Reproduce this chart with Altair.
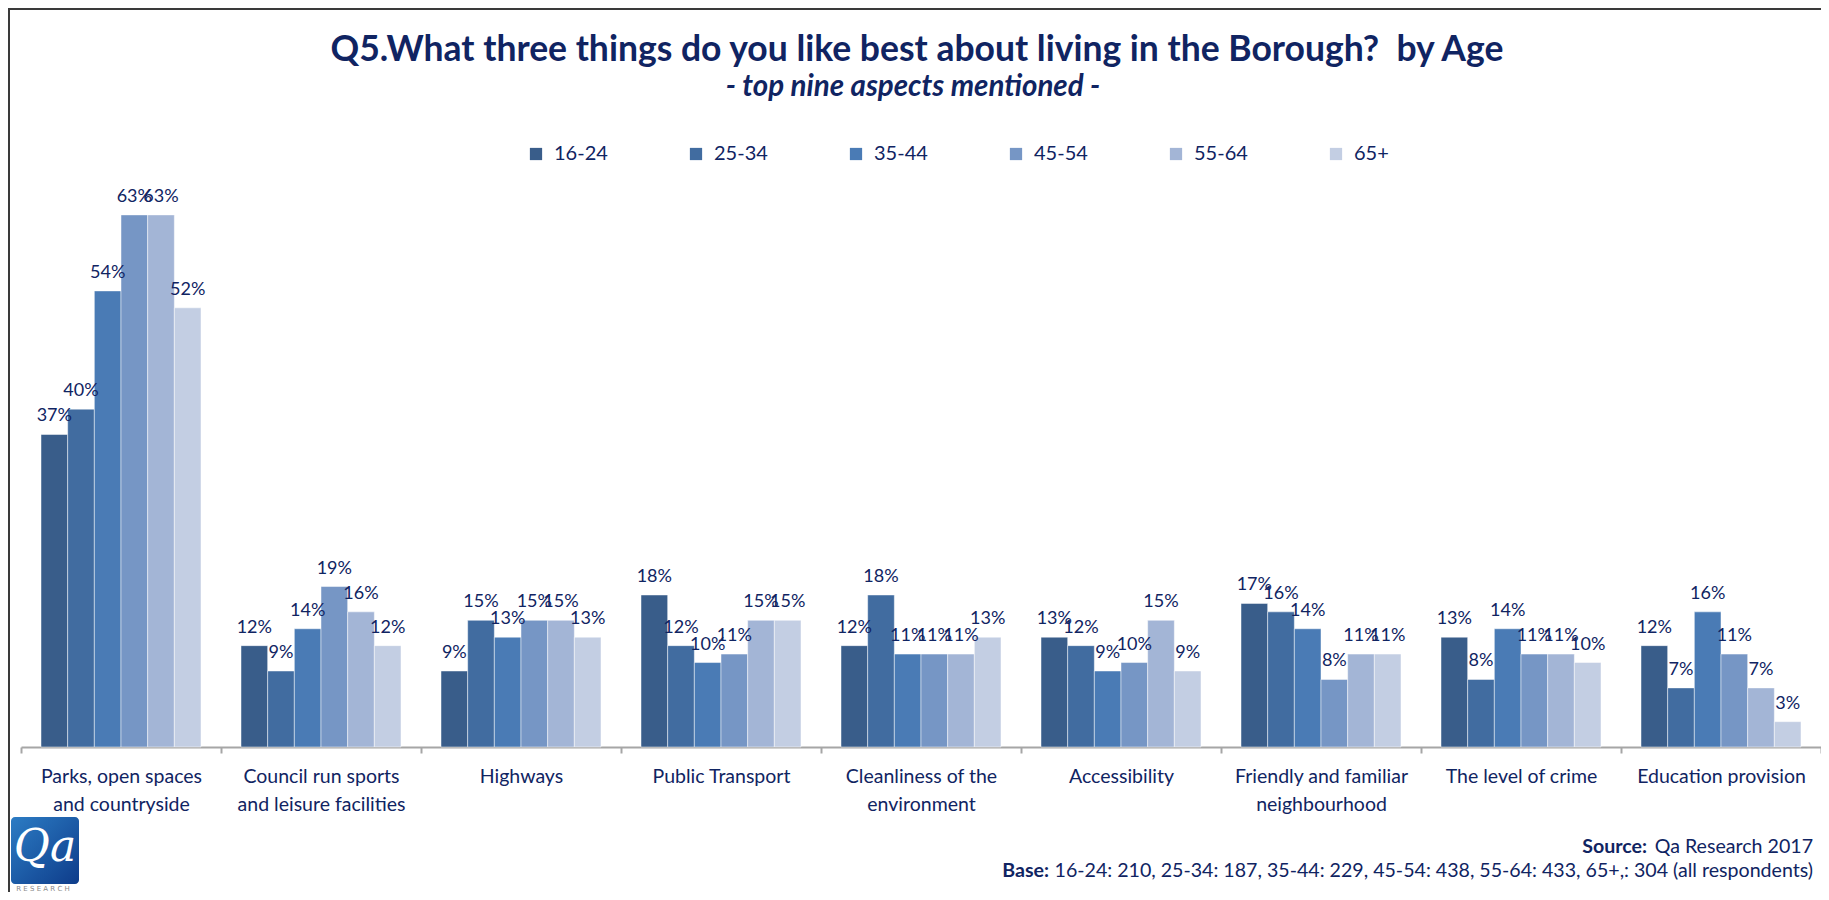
import altair as alt
import pandas as pd

# ---------------- data ----------------
aspects = [
    "Parks, open spaces|and countryside",
    "Council run sports|and leisure facilities",
    "Highways",
    "Public Transport",
    "Cleanliness of the|environment",
    "Accessibility",
    "Friendly and familiar|neighbourhood",
    "The level of crime",
    "Education provision",
]
ages = ["16-24", "25-34", "35-44", "45-54", "55-64", "65+"]

v_16_24 = [37, 12, 9, 18, 12, 13, 17, 13, 12]
v_25_34 = [40, 9, 15, 12, 18, 12, 16, 8, 7]
v_35_44 = [54, 14, 13, 10, 11, 9, 14, 14, 16]
v_45_54 = [63, 19, 15, 11, 11, 10, 8, 11, 11]
v_55_64 = [63, 16, 15, 15, 11, 15, 11, 11, 7]
v_65_plus = [52, 12, 13, 15, 13, 9, 11, 10, 3]

colors = ["#395D8A", "#416CA0", "#4A7BB5", "#7696C5", "#A3B5D6", "#C3CEE3"]

TITLE = "Q5.What three things do you like best about living in the Borough?\u00a0 by Age"
SUBTITLE = "- top nine aspects mentioned -"
SOURCE_BOLD = "Source:"
SOURCE_TEXT = "Qa Research 2017"
BASE_BOLD = "Base:"
BASE_TEXT = "16-24: 210, 25-34: 187, 35-44: 229, 45-54: 438, 55-64: 433, 65+,: 304 (all respondents)"
LOGO_TEXT = "Qa"
LOGO_SUB = "R E S E A R C H"

NAVY = "#102462"
FONT = "Lato"

series = [v_16_24, v_25_34, v_35_44, v_45_54, v_55_64, v_65_plus]
rows = []
for age, vals in zip(ages, series):
    for asp, v in zip(aspects, vals):
        rows.append({"aspect": asp, "age": age, "value": v, "label": f"{v}%"})
df = pd.DataFrame(rows)

W, H = 1800, 549

base = alt.Chart(df).encode(
    x=alt.X(
        "aspect:N",
        sort=aspects,
        scale=alt.Scale(paddingInner=0, paddingOuter=0),
        axis=alt.Axis(
            title=None,
            labelAngle=0,
            labelExpr="split(datum.label, '|')",
            labelFont=FONT,
            labelFontSize=19.5,
            labelColor=NAVY,
            labelLineHeight=28,
            labelPadding=14,
            labelLimit=300,
            domainColor="#A6A6A6",
            domainWidth=2,
            tickColor="#A6A6A6",
            tickWidth=2,
            tickSize=6,
            tickBand="extent",
            grid=False,
        ),
    ),
    xOffset=alt.XOffset("age:N", sort=ages, scale=alt.Scale(paddingInner=0, paddingOuter=0.75)),
    y=alt.Y("value:Q", scale=alt.Scale(domain=[0, 65], nice=False), axis=None),
)

bars = base.mark_bar(stroke="white", strokeWidth=0.6, strokeOpacity=0.8).encode(
    color=alt.Color(
        "age:N",
        sort=ages,
        scale=alt.Scale(domain=ages, range=colors),
        legend=alt.Legend(
            orient="none",
            legendX=505,
            legendY=-54,
            direction="horizontal",
            columns=6,
            gridAlign="all",
            columnPadding=78,
            symbolType="square",
            symbolSize=150,
            symbolStrokeWidth=0,
            symbolOpacity=1,
            labelFont=FONT,
            labelFontSize=20,
            labelColor=NAVY,
            labelOffset=8,
            title=None,
            padding=0,
        ),
    )
)

labels = base.mark_text(
    baseline="bottom", dy=-9, font=FONT, fontSize=18, color=NAVY
).encode(text="label:N")


def one(text):
    return pd.DataFrame({"t": [text]})


title_mark = alt.Chart(one(TITLE)).mark_text(
    font=FONT, fontSize=35.5, fontWeight="bold", color=NAVY, align="center", baseline="alphabetic"
).encode(text="t:N", x=alt.value(896), y=alt.value(-137))

subtitle_mark = alt.Chart(one(SUBTITLE)).mark_text(
    font=FONT, fontSize=29.5, fontWeight="bold", fontStyle="italic", color=NAVY,
    align="center", baseline="alphabetic"
).encode(text="t:N", x=alt.value(892), y=alt.value(-102))

source_b = alt.Chart(one(SOURCE_BOLD)).mark_text(
    font=FONT, fontSize=19.6, fontWeight="bold", color=NAVY, align="right", baseline="alphabetic"
).encode(text="t:N", x=alt.value(1626), y=alt.value(655))
source_t = alt.Chart(one(SOURCE_TEXT)).mark_text(
    font=FONT, fontSize=19.6, color=NAVY, align="right", baseline="alphabetic"
).encode(text="t:N", x=alt.value(1792), y=alt.value(655))

base_b = alt.Chart(one(BASE_BOLD)).mark_text(
    font=FONT, fontSize=19.6, fontWeight="bold", color=NAVY, align="right", baseline="alphabetic"
).encode(text="t:N", x=alt.value(1028), y=alt.value(679))
base_t = alt.Chart(one(BASE_TEXT)).mark_text(
    font=FONT, fontSize=19.6, color=NAVY, align="right", baseline="alphabetic"
).encode(text="t:N", x=alt.value(1792), y=alt.value(679))

border_left = alt.Chart(one("l")).mark_rule(color="#3A3A3A", strokeWidth=2).encode(
    x=alt.value(-12), y=alt.value(-190), y2=alt.value(700)
)
border_top = alt.Chart(one("t")).mark_rule(color="#3A3A3A", strokeWidth=2).encode(
    x=alt.value(-13), x2=alt.value(1810), y=alt.value(-189)
)

logo_rect = alt.Chart(one("logo")).mark_rect(
    cornerRadius=4,
    fill=alt.Gradient(
        gradient="linear",
        stops=[alt.GradientStop(color="#2C7CC4", offset=0), alt.GradientStop(color="#0E3C8A", offset=1)],
        x1=0, y1=0, x2=1, y2=1,
    ),
).encode(x=alt.value(-10), x2=alt.value(58), y=alt.value(619), y2=alt.value(686))

logo_text = alt.Chart(one(LOGO_TEXT)).mark_text(
    font="DejaVu Serif", fontStyle="italic", fontSize=44, color="white", align="center", baseline="middle"
).encode(text="t:N", x=alt.value(24), y=alt.value(650))

logo_sub = alt.Chart(one(LOGO_SUB)).mark_text(
    font="DejaVu Sans", fontSize=7, color="#8A8A8A", align="center", baseline="alphabetic"
).encode(text="t:N", x=alt.value(22), y=alt.value(693))

chart = alt.layer(
    border_left, border_top, bars, labels, title_mark, subtitle_mark,
    source_b, source_t, base_b, base_t, logo_rect, logo_text, logo_sub,
).properties(
    width=W,
    height=H,
    autosize=alt.AutoSizeParams(type="none"),
    padding={"left": 13, "top": 190, "right": 0, "bottom": 145},
    background="white",
).configure_view(stroke=None)

chart.save("out.html", embed_options={"renderer": "svg", "actions": False})
